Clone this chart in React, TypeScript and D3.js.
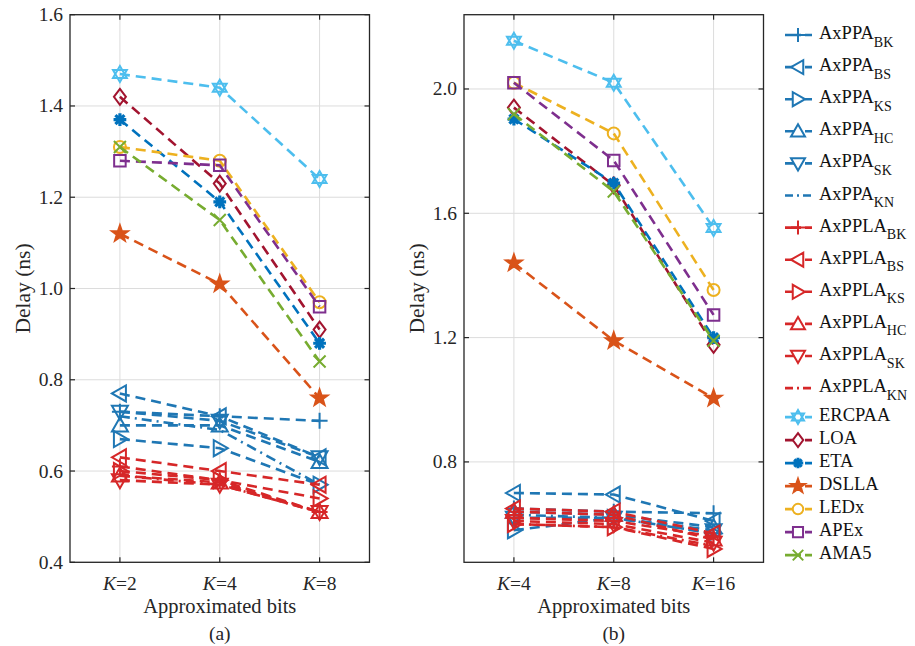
import React from "react";
import * as d3 from "d3";

const catsA = ["2", "4", "8"];
const catsB = ["4", "8", "16"];
const yTicksA = [0.4, 0.6, 0.8, 1.0, 1.2, 1.4, 1.6];
const yTicksB = [0.8, 1.2, 1.6, 2.0];

const seriesNames = [
  "AxPPA_BK", "AxPPA_BS", "AxPPA_KS", "AxPPA_HC", "AxPPA_SK", "AxPPA_KN",
  "AxPPLA_BK", "AxPPLA_BS", "AxPPLA_KS", "AxPPLA_HC", "AxPPLA_SK", "AxPPLA_KN",
  "ERCPAA", "LOA", "ETA", "DSLLA", "LEDx", "APEx", "AMA5",
];

// panel (a) values, same order as seriesNames
const valuesA = [
  [0.73, 0.72, 0.71],
  [0.77, 0.72, 0.63],
  [0.67, 0.65, 0.57],
  [0.70, 0.70, 0.62],
  [0.73, 0.71, 0.63],
  [0.72, 0.69, 0.57],
  [0.61, 0.58, 0.51],
  [0.63, 0.60, 0.57],
  [0.60, 0.58, 0.54],
  [0.59, 0.575, 0.51],
  [0.58, 0.57, 0.51],
  [0.59, 0.57, 0.51],
  [1.47, 1.44, 1.24],
  [1.42, 1.23, 0.91],
  [1.37, 1.19, 0.88],
  [1.12, 1.01, 0.76],
  [1.31, 1.28, 0.97],
  [1.28, 1.27, 0.96],
  [1.31, 1.15, 0.84],
];

// panel (b) values
const valuesB = [
  [0.65, 0.64, 0.635],
  [0.70, 0.695, 0.61],
  [0.58, 0.62, 0.57],
  [0.64, 0.63, 0.59],
  [0.62, 0.62, 0.58],
  [0.63, 0.62, 0.57],
  [0.62, 0.61, 0.56],
  [0.65, 0.64, 0.57],
  [0.60, 0.59, 0.52],
  [0.64, 0.63, 0.55],
  [0.61, 0.60, 0.54],
  [0.60, 0.59, 0.53],
  [2.155, 2.02, 1.553],
  [1.94, 1.69, 1.177],
  [1.903, 1.697, 1.20],
  [1.44, 1.19, 1.005],
  [2.02, 1.857, 1.353],
  [2.02, 1.77, 1.273],
  [1.919, 1.67, 1.19],
];

const BLUE = "#1f77b4";
const RED = "#d62728";
const colors = [
  BLUE, BLUE, BLUE, BLUE, BLUE, BLUE,
  RED, RED, RED, RED, RED, RED,
  "#4DBEEE", "#A2142F", "#0072BD", "#D95319", "#EDB120", "#7E2F8E", "#77AC30",
];
const markers = [
  "plus", "tl", "tr", "tu", "td", "none",
  "plus", "tl", "tr", "tu", "td", "none",
  "hex", "diamond", "aster", "penta", "circle", "square", "x",
];

function markerPath(kind: string, r: number): string {
  switch (kind) {
    case "plus":
      return `M${-r},0H${r}M0,${-r}V${r}`;
    case "x": {
      const a = r * 0.75;
      return `M${-a},${-a}L${a},${a}M${-a},${a}L${a},${-a}`;
    }
    case "tl":
      return `M${-r},0L${r * 0.75},${-r}L${r * 0.75},${r}Z`;
    case "tr":
      return `M${r},0L${-r * 0.75},${-r}L${-r * 0.75},${r}Z`;
    case "tu":
      return `M0,${-r}L${r},${r * 0.75}L${-r},${r * 0.75}Z`;
    case "td":
      return `M0,${r}L${r},${-r * 0.75}L${-r},${-r * 0.75}Z`;
    case "diamond":
      return `M0,${-r}L${r * 0.75},0L0,${r}L${-r * 0.75},0Z`;
    case "square": {
      const a = r * 0.72;
      return `M${-a},${-a}H${a}V${a}H${-a}Z`;
    }
    case "circle": {
      const a = r * 0.75;
      return `M${a},0A${a},${a} 0 1,1 ${-a},0A${a},${a} 0 1,1 ${a},0Z`;
    }
    case "aster": {
      const a = r * 0.75;
      const b = a * 0.707;
      return `M${-a},0H${a}M0,${-a}V${a}M${-b},${-b}L${b},${b}M${-b},${b}L${b},${-b}`;
    }
    case "hex": {
      const pts = (off: number) =>
        d3.range(3).map((i) => {
          const ang = off + (i * 2 * Math.PI) / 3;
          return [r * Math.sin(ang), -r * Math.cos(ang)];
        });
      const t1 = pts(0), t2 = pts(Math.PI);
      const f = (t: number[][]) => `M${t[0][0]},${t[0][1]}L${t[1][0]},${t[1][1]}L${t[2][0]},${t[2][1]}Z`;
      return f(t1) + f(t2);
    }
    case "penta": {
      const p: string[] = [];
      for (let i = 0; i < 10; i++) {
        const rr = i % 2 === 0 ? r * 1.05 : r * 0.42;
        const ang = (i * Math.PI) / 5;
        p.push(`${rr * Math.sin(ang)},${-rr * Math.cos(ang)}`);
      }
      return "M" + p.join("L") + "Z";
    }
    default:
      return "";
  }
}

function markerFill(kind: string, color: string): string {
  if (kind === "penta") return color;
  if (kind === "aster") return color;
  return "none";
}

const FONT = "'Liberation Serif', 'Times New Roman', serif";

interface PanelProps {
  x0: number;
  cats: string[];
  values: number[][];
  domain: [number, number];
  ticks: number[];
  tickFmt: (v: number) => string;
  label: string;
}

const TOP = 14.7;
const BOTTOM = 562.3;
const W = 299.5;

function Panel({ x0, cats, values, domain, ticks, tickFmt, label }: PanelProps) {
  const x = d3.scalePoint<string>().domain(cats).range([x0, x0 + W]).padding(0.5);
  const y = d3.scaleLinear().domain(domain).range([BOTTOM, TOP]);
  const line = d3
    .line<number>()
    .x((_, i) => x(cats[i]) as number)
    .y((v) => y(v));
  const tl = 5;
  return (
    <g>
      {cats.map((c) => (
        <line key={"gx" + c} x1={x(c)} x2={x(c)} y1={TOP} y2={BOTTOM} stroke="#dcdcdc" strokeWidth={1} />
      ))}
      {ticks.map((t) => (
        <line key={"gy" + t} x1={x0} x2={x0 + W} y1={y(t)} y2={y(t)} stroke="#dcdcdc" strokeWidth={1} />
      ))}
      {values.map((vals, si) => {
        const kind = markers[si];
        const col = colors[si];
        return (
          <g key={"s" + si}>
            <path
              d={line(vals) || ""}
              fill="none"
              stroke={col}
              strokeWidth={2.6}
              strokeDasharray={kind === "none" ? "10,5,2,5" : "10,6"}
            />
            {kind !== "none" &&
              vals.map((v, i) => (
                <path
                  key={i}
                  transform={`translate(${x(cats[i])},${y(v)})`}
                  d={markerPath(kind, kind === "aster" ? 8.5 : 8)}
                  fill={markerFill(kind, col)}
                  stroke={col}
                  strokeWidth={kind === "aster" ? 3.2 : 2}
                  strokeLinejoin="miter"
                />
              ))}
          </g>
        );
      })}
      <rect x={x0} y={TOP} width={W} height={BOTTOM - TOP} fill="none" stroke="#262626" strokeWidth={1.3} />
      {cats.map((c) => (
        <g key={"tx" + c}>
          <line x1={x(c)} x2={x(c)} y1={BOTTOM} y2={BOTTOM - tl} stroke="#262626" strokeWidth={1.2} />
          <line x1={x(c)} x2={x(c)} y1={TOP} y2={TOP + tl} stroke="#262626" strokeWidth={1.2} />
          <text x={x(c)} y={590} textAnchor="middle" fontFamily={FONT} fontSize={19.5} fill="#262626">
            <tspan fontStyle="italic">K</tspan>={c}
          </text>
        </g>
      ))}
      {ticks.map((t) => (
        <g key={"ty" + t}>
          <line x1={x0} x2={x0 + tl} y1={y(t)} y2={y(t)} stroke="#262626" strokeWidth={1.2} />
          <line x1={x0 + W} x2={x0 + W - tl} y1={y(t)} y2={y(t)} stroke="#262626" strokeWidth={1.2} />
          <text x={x0 - 7} y={y(t) + 6.5} textAnchor="end" fontFamily={FONT} fontSize={19.5} fill="#262626">
            {tickFmt(t)}
          </text>
        </g>
      ))}
      <text x={x0 + W / 2} y={613} textAnchor="middle" fontFamily={FONT} fontSize={20.5} fill="#262626">
        Approximated bits
      </text>
      <text x={x0 + W / 2} y={640} textAnchor="middle" fontFamily={FONT} fontSize={19.5} fill="#262626">
        {label}
      </text>
      <text
        transform={`translate(${x0 - 40},${(TOP + BOTTOM) / 2}) rotate(-90)`}
        textAnchor="middle"
        fontFamily={FONT}
        fontSize={21.5}
        fill="#262626"
      >
        Delay (ns)
      </text>
    </g>
  );
}

function Legend() {
  const ys: number[] = [];
  let cy = 35;
  for (let i = 0; i < seriesNames.length; i++) {
    ys.push(cy);
    if (i < 11) cy += 32.1;
    else if (i === 11) cy += 29;
    else cy += 23;
  }
  return (
    <g>
      {seriesNames.map((n, i) => {
        const kind = markers[i];
        const col = colors[i];
        const [base, sub] = n.split("_");
        const yy = ys[i];
        return (
          <g key={n}>
            <line
              x1={785}
              x2={812}
              y1={yy}
              y2={yy}
              stroke={col}
              strokeWidth={2.6}
              strokeDasharray={kind === "none" ? "8,4,2,4" : "16,4,8"}
            />
            {kind !== "none" && (
              <path
                transform={`translate(${798},${yy})`}
                d={markerPath(kind, 7)}
                fill={markerFill(kind, col) === "none" ? "white" : col}
                stroke={col}
                strokeWidth={kind === "aster" ? 3 : 2}
              />
            )}
            <text x={819} y={yy + 4} fontFamily={FONT} fontSize={18.5} fill="#111">
              {base}
              {sub && (
                <tspan fontSize={14} dy={7.5}>
                  {sub}
                </tspan>
              )}
            </text>
          </g>
        );
      })}
    </g>
  );
}

export default function App() {
  const fmtA = (v: number) => d3.format(".1f")(v);
  return (
    <svg width={915} height={646} style={{ display: "block", position: "absolute", left: 0, top: 0, background: "white" }}>
      <rect width={915} height={646} fill="white" />
      <Panel x0={70} cats={catsA} values={valuesA} domain={[0.4, 1.6]} ticks={yTicksA} tickFmt={fmtA} label="(a)" />
      <Panel x0={464} cats={catsB} values={valuesB} domain={[0.477, 2.239]} ticks={yTicksB} tickFmt={fmtA} label="(b)" />
      <Legend />
    </svg>
  );
}
